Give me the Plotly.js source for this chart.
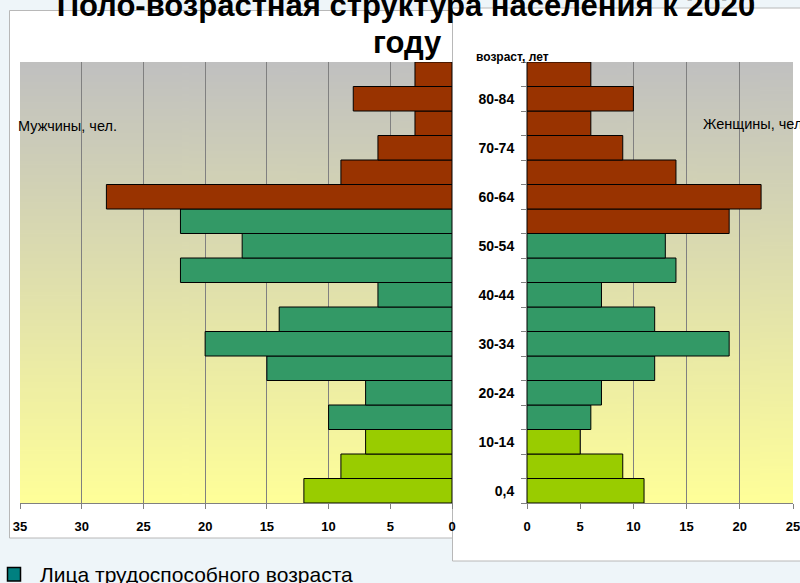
<!DOCTYPE html>
<html>
<head>
<meta charset="utf-8">
<script src="https://cdn.plot.ly/plotly-3.0.1.min.js"></script>
<style>
html,body{margin:0;padding:0;background:#eef5f9;}
#chart{width:800px;height:583px;}
</style>
</head>
<body>
<div id="chart"></div>
<script>
// ---- data ----
const ageGroups = ["0,4","5-9","10-14","15-19","20-24","25-29","30-34","35-39","40-44","45-49","50-54","55-59","60-64","65-69","70-74","75-79","80-84","85+"];
const ageTickText = ["0,4","","10-14","","20-24","","30-34","","40-44","","50-54","","60-64","","70-74","","80-84",""];
const men   = [12, 9, 7, 10, 7, 15, 20, 14, 6, 22, 17, 22, 28, 9, 6, 3, 8, 3];
const women = [11, 9, 5, 6, 7, 12, 19, 12, 7, 14, 13, 19, 22, 14, 9, 6, 10, 6];
// group per age: 0 = younger than working age, 1 = working age, 2 = older than working age
const menGroup   = [0,0,0,1,1,1,1,1,1,1,1,1,2,2,2,2,2,2];
const womenGroup = [0,0,0,1,1,1,1,1,1,1,1,2,2,2,2,2,2,2];
const groupColors = ["#99CC00", "#339966", "#993300"];
const xTicksMen = [0,5,10,15,20,25,30,35];
const xTicksWomen = [0,5,10,15,20,25];

// vertical gradient for plot backgrounds
function gradientURL(){
  const c = document.createElement('canvas');
  c.width = 4; c.height = 256;
  const g = c.getContext('2d');
  const gr = g.createLinearGradient(0,0,0,256);
  gr.addColorStop(0, '#C0C0C0');
  gr.addColorStop(1, '#FFFF99');
  g.fillStyle = gr; g.fillRect(0,0,4,256);
  return c.toDataURL('image/png');
}
const grad = gradientURL();

const W = 800, H = 583;
const px = v => v / W;
const py = v => 1 - v / H;

const FONT = "Liberation Sans, Arial, sans-serif";

const traces = [
  {
    type: 'bar', orientation: 'h', x: men, y: ageGroups,
    xaxis: 'x', yaxis: 'y',
    marker: {color: menGroup.map(g => groupColors[g]), line: {color: '#000', width: 1}},
    hoverinfo: 'x+y', showlegend: false
  },
  {
    type: 'bar', orientation: 'h', x: women, y: ageGroups,
    xaxis: 'x2', yaxis: 'y2',
    marker: {color: womenGroup.map(g => groupColors[g]), line: {color: '#000', width: 1}},
    hoverinfo: 'x+y', showlegend: false
  }
];

const yDom = [py(503), py(62)];
const tickFont = {family: FONT, size: 13, color: '#000', weight: 'bold'};

const layout = {
  width: W, height: H,
  margin: {l: 0, r: 0, t: 0, b: 0},
  paper_bgcolor: '#eef5f9',
  plot_bgcolor: 'rgba(0,0,0,0)',
  bargap: 0,
  showlegend: false,
  title: {
    text: 'Поло-возрастная структура населения к 2020',
    font: {family: FONT, size: 31, color: '#000', weight: 'bold'},
    x: px(406), xanchor: 'center', xref: 'container',
    y: 1 - 5 / H, yanchor: 'middle', yref: 'container'
  },
  xaxis: {
    domain: [px(20), px(452)], range: [35, 0], anchor: 'y',
    tickmode: 'array', tickvals: xTicksMen,
    ticks: 'outside', ticklen: 5, tickcolor: '#808080',
    showgrid: true, gridcolor: '#808080', gridwidth: 1,
    showline: true, linecolor: '#808080', zeroline: false,
    tickfont: tickFont, ticklabelstandoff: 6, ticklabeloverflow: 'allow', fixedrange: true
  },
  yaxis: {
    domain: yDom, anchor: 'x', type: 'category', side: 'right',
    showticklabels: false, ticks: '', showgrid: false, zeroline: false,
    showline: true, linecolor: '#808080', fixedrange: true
  },
  xaxis2: {
    domain: [px(527), px(793)], range: [0, 25], anchor: 'y2',
    tickmode: 'array', tickvals: xTicksWomen,
    ticks: 'outside', ticklen: 5, tickcolor: '#808080',
    showgrid: true, gridcolor: '#808080', gridwidth: 1,
    showline: true, linecolor: '#808080', zeroline: false,
    tickfont: tickFont, ticklabelstandoff: 6, ticklabeloverflow: 'allow', fixedrange: true
  },
  yaxis2: {
    domain: yDom, anchor: 'x2', type: 'category',
    tickmode: 'array', tickvals: ageGroups, ticktext: ageTickText,
    tickson: 'boundaries', ticks: 'outside', ticklen: 5, tickcolor: '#808080',
    showgrid: false, zeroline: false, showline: true, linecolor: '#808080',
    tickfont: {family: FONT, size: 14, color: '#000', weight: 'bold'},
    ticklabelstandoff: 9, fixedrange: true
  },
  images: [
    {source: grad, xref: 'x domain', yref: 'y domain', x: 0, y: 1, sizex: 1, sizey: 1,
     sizing: 'stretch', layer: 'below', xanchor: 'left', yanchor: 'top'},
    {source: grad, xref: 'x2 domain', yref: 'y2 domain', x: 0, y: 1, sizex: 1, sizey: 1,
     sizing: 'stretch', layer: 'below', xanchor: 'left', yanchor: 'top'}
  ],
  shapes: [
    {type: 'rect', xref: 'paper', yref: 'paper', layer: 'below',
     x0: px(9.5), x1: px(456), y0: py(538), y1: py(10.5),
     fillcolor: '#ffffff', line: {color: '#b8b8b8', width: 1}},
    {type: 'rect', xref: 'paper', yref: 'paper', layer: 'below',
     x0: px(452.5), x1: px(820), y0: py(561), y1: py(8),
     fillcolor: '#ffffff', line: {color: '#b8b8b8', width: 1}},
    {type: 'rect', xref: 'paper', yref: 'paper', layer: 'above',
     x0: px(7.5), x1: px(20.5), y0: py(581), y1: py(567.5),
     fillcolor: '#008080', line: {color: '#000', width: 1.5}}
  ],
  annotations: [
    {text: 'году', xref: 'paper', yref: 'paper', x: px(407), y: py(42),
     xanchor: 'center', yanchor: 'middle', showarrow: false,
     font: {family: FONT, size: 31, color: '#000', weight: 'bold'}},
    {text: 'Мужчины, чел.', xref: 'paper', yref: 'paper', x: px(16), y: py(126),
     xanchor: 'left', yanchor: 'middle', showarrow: false,
     font: {family: FONT, size: 14.5, color: '#000'}},
    {text: 'Женщины, чел.', xref: 'paper', yref: 'paper', x: px(701), y: py(124),
     xanchor: 'left', yanchor: 'middle', showarrow: false,
     font: {family: FONT, size: 14.5, color: '#000'}},
    {text: 'возраст, лет', xref: 'paper', yref: 'paper', x: px(474), y: py(57),
     xanchor: 'left', yanchor: 'middle', showarrow: false,
     font: {family: FONT, size: 12, color: '#000', weight: 'bold'}},
    {text: 'Лица трудоспособного возраста', xref: 'paper', yref: 'paper', x: px(38), y: py(574),
     xanchor: 'left', yanchor: 'middle', showarrow: false,
     font: {family: FONT, size: 21, color: '#000'}}
  ]
};

Plotly.newPlot('chart', traces, layout, {displayModeBar: false, staticPlot: true});
</script>
</body>
</html>
